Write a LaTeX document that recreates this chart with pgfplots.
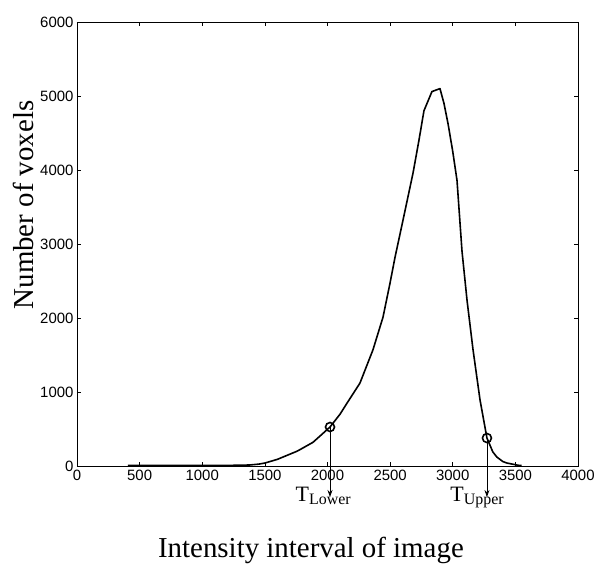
\documentclass[border=0pt]{standalone}
\usepackage{fontspec}
\setmainfont{Liberation Serif}
\setsansfont{Liberation Sans}
\usepackage{pgfplots}
\pgfplotsset{compat=1.18}
\usetikzlibrary{calc,arrows.meta}
\begin{document}
\begin{tikzpicture}
\begin{axis}[
  name=ax,
  scale only axis,
  width=501bp, height=444bp,
  xmin=0, xmax=4000, ymin=0, ymax=6000,
  xtick={0,500,...,4000},
  ytick={0,1000,...,6000},
  tick align=inside,
  major tick length=4bp,
  tick style={black, line width=0.6bp},
  axis line style={black, line width=0.8bp},
  /pgf/number format/1000 sep={},
  /pgf/number format/assume math mode=true,
  tick label style={font=\fontsize{15}{17}\selectfont\sffamily},
  xticklabel style={yshift=-1bp},
  yticklabel style={xshift=0bp},
  xlabel={Intensity interval of image},
  ylabel={Number of voxels},
  label style={font=\fontsize{29}{34}\selectfont},
  xlabel style={at={(axis description cs:0.467,-0.207)}, anchor=base},
  ylabel style={at={(axis description cs:-0.106,0.588)}, anchor=center},
  clip=false,
]
\addplot[black, line width=1.6bp, line join=round] coordinates {
(407,8) (600,8) (800,8) (1000,8) (1200,9) (1300,10) (1380,14) (1450,25)
(1500,40) (1600,90) (1700,160) (1757,200) (1800,240) (1884,320)
(1950,420) (2020,527) (2100,700) (2156,850) (2259,1120) (2363,1570)
(2443,2010) (2499,2470) (2539,2820) (2600,3300) (2683,3960) (2730,4400)
(2770,4800) (2834,5060) (2898,5100) (2930,4900) (2962,4630) (3000,4250)
(3034,3860) (3074,2900) (3114,2240) (3162,1570) (3218,890) (3273,378)
(3320,190) (3353,120) (3400,60) (3433,40) (3521,10) (3550,6)
};
\addplot[only marks, mark=o, mark size=4.5bp, black, line width=1.6bp] coordinates {
(2020,527) (3273,378)
};
\draw[-{Stealth[length=7bp,width=5bp]}, line width=0.8bp] (axis cs:2020,527) -- (axis cs:2020,-419);
\draw[-{Stealth[length=7bp,width=5bp]}, line width=0.8bp] (axis cs:3273,378) -- (axis cs:3273,-419);
\node[anchor=base, font=\fontsize{22}{26}\selectfont, inner sep=0pt] at (axis cs:1966,-486) {T\raisebox{-0.3ex}{\fontsize{16}{18}\selectfont Lower}};
\node[anchor=base, font=\fontsize{22}{26}\selectfont, inner sep=0pt] at (axis cs:3194,-486) {T\raisebox{-0.3ex}{\fontsize{16}{18}\selectfont Upper}};
\end{axis}
\pgfresetboundingbox
\path[use as bounding box] ($(ax.south west)+(-77bp,-105bp)$) rectangle ($(ax.north east)+(22bp,22bp)$);
\end{tikzpicture}
\end{document}
